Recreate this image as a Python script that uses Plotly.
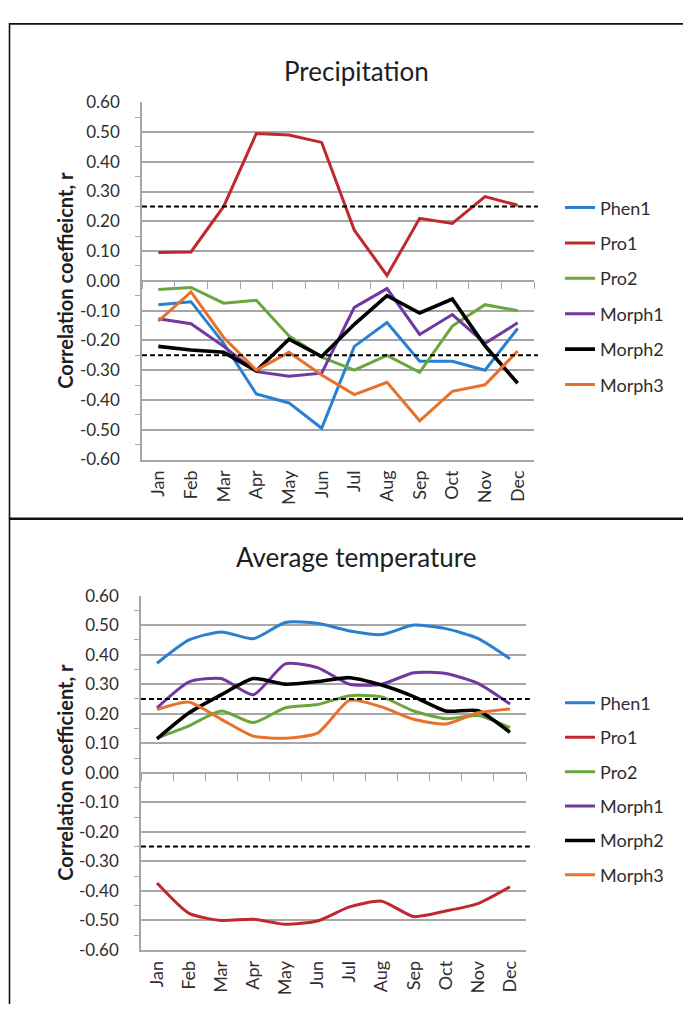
import plotly.graph_objects as go

# ---------------- data ----------------
months = ["Jan", "Feb", "Mar", "Apr", "May", "Jun", "Jul", "Aug", "Sep", "Oct", "Nov", "Dec"]
series_names = ["Phen1", "Pro1", "Pro2", "Morph1", "Morph2", "Morph3"]
series_colors = ["#2b7fd0", "#c0282e", "#6aa63c", "#7038a0", "#000000", "#e8712a"]
series_widths = [3, 3, 3, 3, 3.6, 3]

precip_phen1 = [-0.08, -0.07, -0.21, -0.38, -0.41, -0.495, -0.22, -0.14, -0.27, -0.27, -0.30, -0.16]
precip_pro1 = [0.095, 0.097, 0.25, 0.495, 0.49, 0.465, 0.17, 0.018, 0.21, 0.193, 0.283, 0.254]
precip_pro2 = [-0.029, -0.022, -0.075, -0.065, -0.185, -0.256, -0.30, -0.25, -0.307, -0.152, -0.08, -0.10]
precip_morph1 = [-0.127, -0.144, -0.22, -0.305, -0.32, -0.31, -0.089, -0.026, -0.18, -0.113, -0.21, -0.141]
precip_morph2 = [-0.22, -0.232, -0.24, -0.302, -0.196, -0.254, -0.146, -0.05, -0.108, -0.061, -0.218, -0.344]
precip_morph3 = [-0.135, -0.037, -0.19, -0.30, -0.24, -0.316, -0.382, -0.341, -0.47, -0.371, -0.349, -0.236]

temp_phen1 = [0.371, 0.45, 0.477, 0.454, 0.509, 0.506, 0.48, 0.468, 0.50, 0.488, 0.455, 0.386]
temp_pro1 = [-0.373, -0.476, -0.50, -0.496, -0.513, -0.502, -0.454, -0.435, -0.487, -0.468, -0.443, -0.386]
temp_pro2 = [0.118, 0.159, 0.209, 0.17, 0.22, 0.231, 0.261, 0.257, 0.209, 0.183, 0.194, 0.153]
temp_morph1 = [0.22, 0.308, 0.319, 0.264, 0.369, 0.356, 0.30, 0.30, 0.339, 0.336, 0.303, 0.233]
temp_morph2 = [0.115, 0.203, 0.264, 0.319, 0.30, 0.309, 0.322, 0.297, 0.258, 0.209, 0.21, 0.137]
temp_morph3 = [0.214, 0.239, 0.181, 0.124, 0.117, 0.134, 0.245, 0.223, 0.181, 0.165, 0.203, 0.216]

precip_series = [precip_phen1, precip_pro1, precip_pro2, precip_morph1, precip_morph2, precip_morph3]
temp_series = [temp_phen1, temp_pro1, temp_pro2, temp_morph1, temp_morph2, temp_morph3]

threshold_r = 0.25
ytick_vals = [0.6, 0.5, 0.4, 0.3, 0.2, 0.1, 0.0, -0.1, -0.2, -0.3, -0.4, -0.5, -0.6]
ytick_text = ["0.60", "0.50", "0.40", "0.30", "0.20", "0.10", "0.00",
              "-0.10", "-0.20", "-0.30", "-0.40", "-0.50", "-0.60"]
minor_vals = [0.55, 0.45, 0.35, 0.25, 0.15, 0.05, -0.05, -0.15, -0.25, -0.35, -0.45, -0.55]

titles = ["Precipitation", "Average temperature"]
ytitles = ["Correlation coeffieicnt, r", "Correlation coefficient, r"]

# ---------------- layout helpers ----------------
# the page body has an 8px margin; keep the figure inside the window
OFF = 8
W, H = 683, 996
def fx(p):
    return (p - OFF) / W
def fy(p):
    return 1 - (p - OFF) / H

FONT = "Lato"
TXT = "#2e2e2e"
GRID = "#a6a6a6"

panels = [
    dict(x0=142, x1=534, ytop=93, ybot=458, xa="x", ya="y", za="x3", leg="legend",
         series=precip_series, shape="linear", title_y=61, legend_top=182, gap=9),
    dict(x0=141, x1=526, ytop=597, ybot=959, xa="x2", ya="y2", za="x4", leg="legend2",
         series=temp_series, shape="spline", title_y=558, legend_top=688, gap=8),
]

fig = go.Figure()

for p in panels:
    for name, col, wd, vals in zip(series_names, series_colors, series_widths, p["series"]):
        fig.add_trace(go.Scatter(
            x=months, y=vals, name=name, mode="lines",
            line=dict(color=col, width=wd, shape=p["shape"], smoothing=0.6),
            xaxis=p["xa"], yaxis=p["ya"], legend=p["leg"], legendgroup=p["leg"] + name,
        ))
    # empty trace to register the zero-crossing axis
    fig.add_trace(go.Scatter(x=[], y=[], xaxis=p["za"], yaxis=p["ya"], showlegend=False, hoverinfo="skip"))

layout = dict(
    width=W, height=H, margin=dict(l=0, r=0, t=0, b=0),
    paper_bgcolor="white", plot_bgcolor="white",
    font=dict(family=FONT, color=TXT, size=15),
    showlegend=True,
)

shapes = []
annotations = []
for i, p in enumerate(panels):
    xs = "" if i == 0 else str(i + 1)
    xdom = [fx(p["x0"]), fx(p["x1"])]
    ydom = [fy(p["ybot"]), fy(p["ytop"])]
    layout["xaxis" + xs] = dict(
        domain=xdom, anchor=p["ya"], type="category", categoryorder="array", categoryarray=months,
        range=[-0.5, 11.5], showgrid=False, zeroline=False, showline=True, linecolor=GRID, linewidth=1.5,
        ticks="", tickangle=-90, ticklabelstandoff=2,
        tickfont=dict(size=18, color=TXT, family=FONT), fixedrange=True,
    )
    layout["yaxis" + xs] = dict(
        domain=ydom, anchor=p["xa"], range=[-0.6, 0.6], tickmode="array", tickvals=ytick_vals,
        ticktext=ytick_text, showgrid=True, gridcolor=GRID, gridwidth=1.6, zeroline=False,
        showline=True, linecolor=GRID, linewidth=1.5, ticks="", ticklabelstandoff=17,
        tickfont=dict(size=17, color=TXT, family=FONT),
        minor=dict(tickmode="array", tickvals=minor_vals, ticks="outside", ticklen=5,
                   tickcolor=GRID, tickwidth=1, showgrid=False),
    )
    zname = "xaxis" + ("3" if i == 0 else "4")
    layout[zname] = dict(
        overlaying=p["xa"], anchor="free", position=(ydom[0] + ydom[1]) / 2, type="linear",
        range=[-0.5, 11.5], tick0=-0.5, dtick=1, ticks="outside", ticklen=7, tickwidth=1.2,
        tickcolor=GRID, showline=True, linecolor=GRID, linewidth=1.5, showticklabels=False,
        showgrid=False, zeroline=False,
    )
    # significance threshold lines
    for t in (threshold_r, -threshold_r):
        shapes.append(dict(type="line", xref=p["xa"] + " domain", x0=0, x1=1.01, yref=p["ya"],
                           y0=t, y1=t, line=dict(color="black", width=2, dash="5px,3px")))
    annotations.append(dict(text=titles[i], x=fx(356), y=fy(p["title_y"]), xref="paper", yref="paper",
                            xanchor="center", yanchor="middle", showarrow=False,
                            font=dict(size=26, color="#1e1e1e", family=FONT)))
    annotations.append(dict(text="<b>" + ytitles[i] + "</b>", x=fx(65), y=(ydom[0] + ydom[1]) / 2,
                            xref="paper", yref="paper", xanchor="center", yanchor="middle",
                            textangle=-90, showarrow=False,
                            font=dict(size=20, color="#1e1e1e", family=FONT)))
    layout[p["leg"]] = dict(
        x=fx(560), y=fy(p["legend_top"]), xanchor="left", yanchor="top", xref="paper", yref="paper",
        bgcolor="rgba(0,0,0,0)", font=dict(size=18, color=TXT, family=FONT), tracegroupgap=p["gap"],
        itemwidth=30,
    )

# panel frames
shapes.append(dict(type="rect", xref="paper", yref="paper", x0=fx(9.5), x1=fx(720), y0=fy(518), y1=fy(13),
                   line=dict(color="#111111", width=1.6)))
shapes.append(dict(type="rect", xref="paper", yref="paper", x0=fx(9.5), x1=fx(720), y0=fy(1040), y1=fy(519),
                   line=dict(color="#111111", width=1.6)))

layout["shapes"] = shapes
layout["annotations"] = annotations
fig.update_layout(**layout)

fig.write_html("out.html")
